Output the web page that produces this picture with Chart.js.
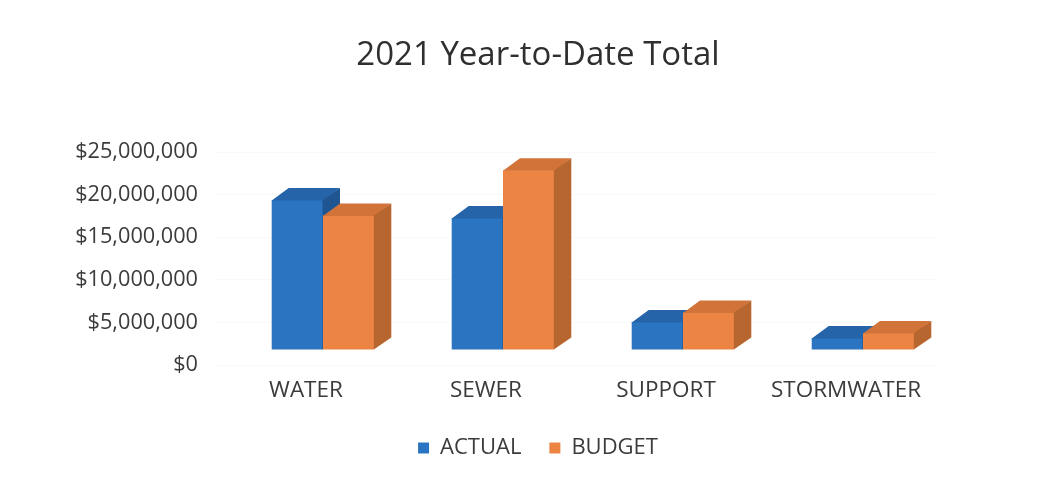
<!DOCTYPE html>
<html>
<head>
<meta charset="utf-8">
<title>2021 Year-to-Date Total</title>
<script src="https://cdn.jsdelivr.net/npm/chart.js@4.4.0/dist/chart.umd.min.js"></script>
<style>
  html, body { margin: 0; padding: 0; background: #ffffff; }
  #wrap { width: 1055px; height: 482px; position: relative; }
  canvas { display: block; }
</style>
</head>
<body>
<div id="wrap"><canvas id="chart" width="1055" height="482"></canvas></div>
<script>
// Year-to-date totals by fund (US dollars)
const categories = ['WATER', 'SEWER', 'SUPPORT', 'STORMWATER'];
const actualValues = [17600000, 15500000, 3300000, 1400000];
const budgetValues = [15800000, 21100000, 4400000, 2000000];
const yAxisMax = 25000000;
const yAxisStep = 5000000;

const FONT = "'Open Sans', 'Noto Sans', sans-serif";
const TEXT = '#3b3b3b';

// Oblique projection used for the column solids
const DEPTH_X = 17, DEPTH_Y = 12;   // how far the back face sits from the front face
const FLOOR_X = 17, FLOOR_Y = 15;   // columns stand a little behind the front edge of the floor

function fillPoly(ctx, pts, color) {
  ctx.beginPath();
  ctx.moveTo(pts[0][0], pts[0][1]);
  for (let k = 1; k < pts.length; k++) ctx.lineTo(pts[k][0], pts[k][1]);
  ctx.closePath();
  ctx.fillStyle = color;
  ctx.fill();
}

// Draws each column as a box: front (library bar element), then top and right side.
// Columns are painted category by category so neighbours overlap correctly.
const columns3d = {
  id: 'columns3d',
  beforeDatasetsDraw(chart) {
    const ctx = chart.ctx;
    const metas = chart.getSortedVisibleDatasetMetas();
    const count = chart.data.labels.length;
    ctx.save();
    ctx.translate(FLOOR_X, -FLOOR_Y);
    for (let i = 0; i < count; i++) {
      metas.forEach(meta => {
        const el = meta.data[i];
        if (!el) return;
        const ds = chart.data.datasets[meta.index];
        const p = el.getProps(['x', 'y', 'base', 'width'], true);
        const l = p.x - p.width / 2, r = p.x + p.width / 2;
        el.draw(ctx);
        // top face
        fillPoly(ctx, [[l, p.y + 0.5], [l + DEPTH_X, p.y - DEPTH_Y], [r + DEPTH_X, p.y - DEPTH_Y], [r, p.y + 0.5]], ds.topColor);
        // right side face
        fillPoly(ctx, [[r - 0.5, p.y], [r + DEPTH_X, p.y - DEPTH_Y], [r + DEPTH_X, p.base - DEPTH_Y], [r - 0.5, p.base]], ds.sideColor);
      });
    }
    ctx.restore();
    return false;
  }
};

const ctx = document.getElementById('chart').getContext('2d');
new Chart(ctx, {
  type: 'bar',
  data: {
    labels: categories,
    datasets: [
      {
        label: 'ACTUAL',
        data: actualValues,
        backgroundColor: '#2b74c1',
        topColor: '#2564a9',
        sideColor: '#1f5590',
        borderWidth: 0
      },
      {
        label: 'BUDGET',
        data: budgetValues,
        backgroundColor: '#ec8544',
        topColor: '#d2743a',
        sideColor: '#b8662f',
        borderWidth: 0
      }
    ]
  },
  options: {
    responsive: false,
    animation: false,
    events: [],
    layout: { padding: { left: 75, right: 54, top: 0, bottom: 13 } },
    datasets: {
      bar: { barPercentage: 1, categoryPercentage: 0.57 }
    },
    scales: {
      x: {
        grid: { display: false, drawTicks: false },
        border: { display: false },
        ticks: {
          color: TEXT,
          font: { family: FONT, size: 22.5 },
          padding: 12,
          maxRotation: 0
        },
        afterFit(scale) { scale.height = 44; }
      },
      y: {
        min: 0,
        max: yAxisMax,
        grid: { color: 'rgba(0,0,0,0.025)', drawTicks: false },
        border: { display: false },
        ticks: {
          stepSize: yAxisStep,
          color: TEXT,
          font: { family: FONT, size: 21.7 },
          padding: 18,
          callback: v => '$' + Number(v).toLocaleString('en-US')
        },
        afterFit(scale) { scale.width = 141; }
      },
      // empty right-hand margin that leaves room for the column depth
      margin: {
        type: 'linear',
        position: 'right',
        grid: { display: false, drawTicks: false },
        border: { display: false },
        ticks: { display: false },
        afterFit(scale) { scale.width = 65; }
      }
    },
    plugins: {
      title: {
        display: true,
        text: '2021 Year-to-Date Total',
        color: '#2f2f2f',
        font: { family: FONT, size: 33, weight: 'normal' },
        padding: { top: 36, bottom: 76.4 }
      },
      legend: {
        position: 'bottom',
        labels: {
          color: TEXT,
          font: { family: FONT, size: 22 },
          boxWidth: 11,
          boxHeight: 11,
          padding: 28
        }
      },
      tooltip: { enabled: false }
    }
  },
  plugins: [columns3d]
});
</script>
</body>
</html>
